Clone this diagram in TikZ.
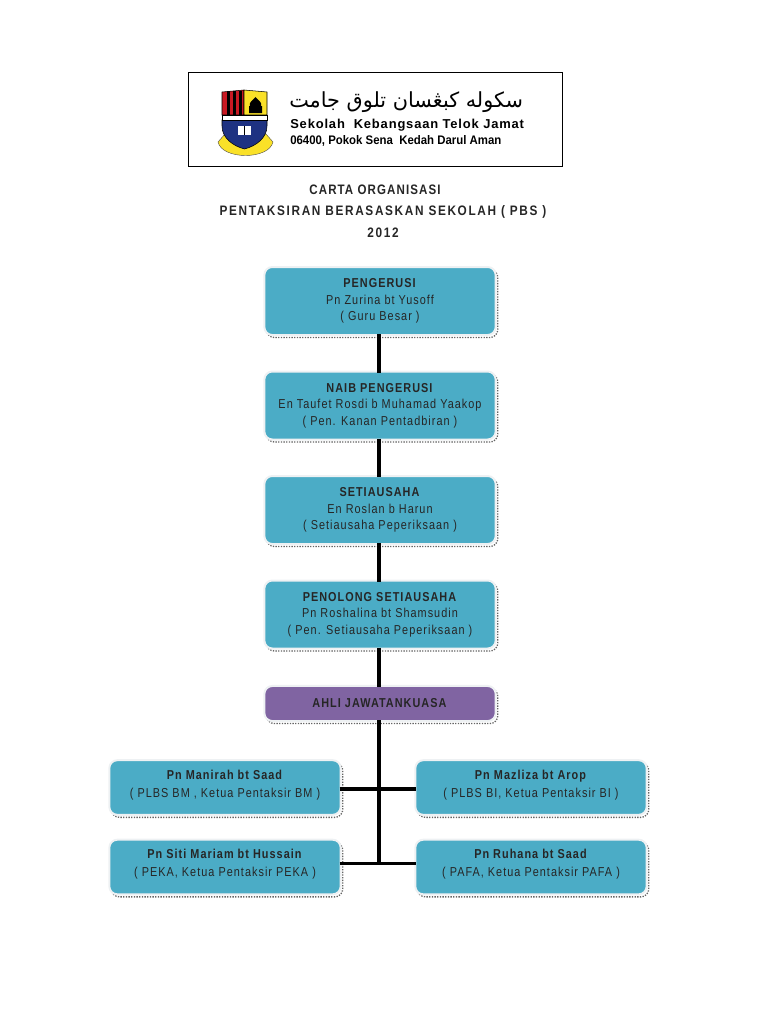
\documentclass[tikz,border=0pt]{standalone}
\usepackage{fontspec}
\setmainfont{Liberation Sans}
\newfontfamily\jawifont[Script=Arabic]{DejaVu Sans}
\newfontfamily\spacedfont[LetterSpace=8,FakeStretch=0.84]{Liberation Sans}
\newfontfamily\widefont[LetterSpace=12,FakeStretch=0.86]{Liberation Sans}
\newfontfamily\schoolfont[LetterSpace=6.5]{Liberation Sans}
\newfontfamily\addressfont[FakeStretch=0.92]{Liberation Sans}
\TeXXeTstate=1
\definecolor{boxblue}{RGB}{75, 172, 198}
\definecolor{boxpurple}{RGB}{128, 100, 162}
\definecolor{boxedge}{RGB}{238, 241, 243}
\definecolor{crestblue}{RGB}{30, 50, 130}
\definecolor{crestred}{RGB}{200, 25, 35}
\definecolor{crestyellow}{RGB}{250, 225, 40}

\begin{document}
\begin{tikzpicture}[
    x=0.75pt, y=-0.75pt,
    chart/.style={rectangle, draw=boxedge, line width=1.5pt, rounded corners=6pt, fill=boxblue, minimum width=173.5pt, align=center, inner sep=0pt, font=\spacedfont\fontsize{9.7}{12.4}\selectfont, text=black!85, preaction={draw=black!60, densely dotted, line width=1pt, transform canvas={shift={(1.6pt,-1.9pt)}}}},
    tall/.style={chart, minimum height=51pt},
    low/.style={chart, minimum height=41pt, text depth=6pt, font=\spacedfont\fontsize{9.7}{13.4}\selectfont},
    link/.style={line width=2.3pt, color=black, shorten <=-1.5pt, shorten >=-1.5pt},
    titleline/.style={font=\widefont\bfseries\fontsize{10.3}{12}\selectfont, text=black!85, inner sep=0pt}
]
\useasboundingbox (0,0) rectangle (768,1024);

% Letterhead
\node[draw=black, line width=0.6pt, minimum width=281pt, minimum height=70.5pt, inner sep=0pt] (letterhead) at (375.5,119) {};
\node[anchor=west, inner sep=0pt, font=\jawifont\fontsize{15.6}{20}\selectfont] (jawi) at (289,102) {\beginR سکوله کبڠسان تلوق جامت\endR};
\node[anchor=west, inner sep=0pt, font=\schoolfont\bfseries\fontsize{9.7}{12}\selectfont] (school) at (290,125) {Sekolah\ \ Kebangsaan Telok Jamat};
\node[anchor=west, inner sep=0pt, font=\addressfont\bfseries\fontsize{9.3}{12}\selectfont] (address) at (290,141) {06400, Pokok Sena\ \ Kedah Darul Aman};

% Crest
\fill[crestyellow, draw=black!70, line width=0.3pt] (218,142) .. controls (222,160) and (269,160) .. (273,142) -- (266,134) -- (225,134) -- cycle;
\fill[crestred, draw=black, line width=0.4pt] (222,92) -- (244,90) -- (244,115) -- (222,115) -- cycle;
\fill[crestyellow, draw=black, line width=0.4pt] (244,90) -- (267,92) -- (267,115) -- (244,115) -- cycle;
\foreach \stripex in {227,233,239}
  \fill[black] (\stripex,91) rectangle +(2.5,24);
\fill[black] (249,113) rectangle (262,106) (255.5,97) .. controls (252,101) and (249,102) .. (250,106) -- (261,106) .. controls (262,102) and (259,101) .. (255.5,97);
\fill[crestblue, draw=black, line width=0.4pt] (222,120) -- (267,120) -- (267,126) .. controls (267,138) and (256,146) .. (244.5,149) .. controls (233,146) and (222,138) .. (222,126) -- cycle;
\fill[white, draw=black, line width=0.3pt] (222,115) rectangle (267,120);
\fill[white] (238,126) rectangle (251,135);
\draw[black, line width=0.5pt] (244.5,126) -- (244.5,135);

% Title
\node[titleline, font=\spacedfont\bfseries\fontsize{10.3}{12}\selectfont] (title1) at (375,190) {CARTA ORGANISASI};
\node[titleline] (title2) at (383,212) {PENTAKSIRAN BERASASKAN SEKOLAH ( PBS )};
\node[titleline] (title3) at (383,233) {2012};

% Main chain
\node[tall] (pengerusi) at (380,301) {\textbf{PENGERUSI}\\Pn Zurina bt Yusoff\\( Guru Besar )};
\node[tall] (naib) at (380,405.5) {\textbf{NAIB PENGERUSI}\\En Taufet Rosdi b Muhamad Yaakop\\( Pen. Kanan Pentadbiran )};
\node[tall] (setiausaha) at (380,510) {\textbf{SETIAUSAHA}\\En Roslan b Harun\\( Setiausaha Peperiksaan )};
\node[tall] (penolong) at (380,614.5) {\textbf{PENOLONG SETIAUSAHA}\\Pn Roshalina bt Shamsudin\\( Pen. Setiausaha Peperiksaan )};
\node[chart, fill=boxpurple, minimum height=26.3pt] (ahli) at (380,703.5) {\textbf{AHLI JAWATANKUASA}};

% Members
\node[low] (manirah) at (225,787.5) {\textbf{Pn Manirah bt Saad}\\( PLBS BM , Ketua Pentaksir BM )};
\node[low] (mazliza) at (531,787.5) {\textbf{Pn Mazliza bt Arop}\\( PLBS BI, Ketua Pentaksir BI )};
\node[low] (siti) at (225,867) {\textbf{Pn Siti Mariam bt Hussain}\\( PEKA, Ketua Pentaksir PEKA )};
\node[low] (ruhana) at (531,867) {\textbf{Pn Ruhana bt Saad}\\( PAFA, Ketua Pentaksir PAFA )};

% Connectors
\coordinate (spinetop) at (379,789);
\coordinate (spineend) at (379,863.5);
\draw[link] (pengerusi.south -| spineend) -- (naib.north -| spineend);
\draw[link] (naib.south -| spineend) -- (setiausaha.north -| spineend);
\draw[link] (setiausaha.south -| spineend) -- (penolong.north -| spineend);
\draw[link] (penolong.south -| spineend) -- (ahli.north -| spineend);
\draw[link, shorten >=0pt] (ahli.south -| spineend) -- (spineend);
\draw[link] (manirah.east |- spinetop) -- (mazliza.west |- spinetop);
\draw[link] (siti.east |- spineend) -- (ruhana.west |- spineend);
\end{tikzpicture}
\end{document}
